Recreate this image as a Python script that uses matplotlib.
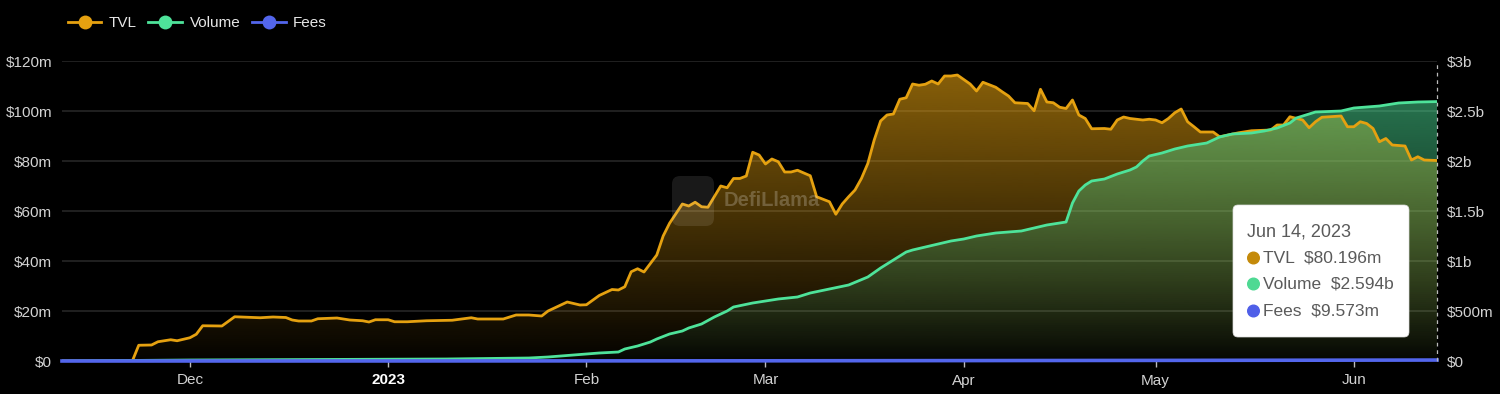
import numpy as np
import matplotlib
matplotlib.use("Agg")
import matplotlib.pyplot as plt
import matplotlib.dates as mdates
from matplotlib.patches import Polygon, FancyBboxPatch
from matplotlib.lines import Line2D
from matplotlib.colors import to_rgb

plt.rcParams["font.family"] = ["Liberation Sans", "DejaVu Sans"]

# ---------------- DATA ----------------

tvl_dates = [
    "2022-11-11", "2022-11-22", "2022-11-23", "2022-11-25", "2022-11-26", "2022-11-28",
    "2022-11-29", "2022-12-01", "2022-12-02", "2022-12-03", "2022-12-06", "2022-12-08",
    "2022-12-10", "2022-12-12", "2022-12-14", "2022-12-16", "2022-12-17", "2022-12-18",
    "2022-12-20", "2022-12-21", "2022-12-24", "2022-12-26", "2022-12-28", "2022-12-29",
    "2022-12-30", "2023-01-01", "2023-01-02", "2023-01-04", "2023-01-07", "2023-01-11",
    "2023-01-14", "2023-01-15", "2023-01-19", "2023-01-21", "2023-01-23", "2023-01-25",
    "2023-01-26", "2023-01-28", "2023-01-29", "2023-01-31", "2023-02-01", "2023-02-03",
    "2023-02-05", "2023-02-06", "2023-02-07", "2023-02-08", "2023-02-09", "2023-02-10",
    "2023-02-12", "2023-02-13", "2023-02-14", "2023-02-16", "2023-02-17", "2023-02-18",
    "2023-02-19", "2023-02-20", "2023-02-22", "2023-02-23", "2023-02-24", "2023-02-25",
    "2023-02-26", "2023-02-27", "2023-02-28", "2023-03-01", "2023-03-02", "2023-03-03",
    "2023-03-04", "2023-03-05", "2023-03-06", "2023-03-08", "2023-03-09", "2023-03-11",
    "2023-03-12", "2023-03-13", "2023-03-14", "2023-03-15", "2023-03-16", "2023-03-17",
    "2023-03-18", "2023-03-19", "2023-03-20", "2023-03-21", "2023-03-22", "2023-03-23",
    "2023-03-24", "2023-03-25", "2023-03-26", "2023-03-27", "2023-03-28", "2023-03-29",
    "2023-03-30", "2023-03-31", "2023-04-02", "2023-04-03", "2023-04-04", "2023-04-06",
    "2023-04-07", "2023-04-08", "2023-04-09", "2023-04-11", "2023-04-12", "2023-04-13",
    "2023-04-14", "2023-04-15", "2023-04-16", "2023-04-17", "2023-04-18", "2023-04-19",
    "2023-04-20", "2023-04-21", "2023-04-23", "2023-04-24", "2023-04-25", "2023-04-26",
    "2023-04-27", "2023-04-29", "2023-04-30", "2023-05-01", "2023-05-02", "2023-05-03",
    "2023-05-04", "2023-05-05", "2023-05-06", "2023-05-07", "2023-05-08", "2023-05-10",
    "2023-05-11", "2023-05-14", "2023-05-16", "2023-05-19", "2023-05-20", "2023-05-21",
    "2023-05-22", "2023-05-24", "2023-05-25", "2023-05-26", "2023-05-27", "2023-05-30",
    "2023-05-31", "2023-06-01", "2023-06-02", "2023-06-03", "2023-06-04", "2023-06-05",
    "2023-06-06", "2023-06-07", "2023-06-09", "2023-06-10", "2023-06-11", "2023-06-12",
    "2023-06-14",
]
tvl_musd = [
    0, 0, 6.3, 6.4, 7.7, 8.5,
    8.1, 9.3, 10.7, 14.1, 14.0, 17.7,
    17.5, 17.3, 17.6, 17.4, 16.4, 16.0,
    16.0, 16.9, 17.2, 16.4, 16.1, 15.6,
    16.5, 16.5, 15.7, 15.7, 16.1, 16.3,
    17.3, 16.8, 16.8, 18.4, 18.4, 18.0,
    20.0, 22.4, 23.6, 22.4, 22.5, 26.2,
    28.6, 28.4, 29.7, 35.7, 36.9, 35.6,
    42.4, 50.0, 55.1, 62.8, 62.0, 63.5,
    61.7, 61.5, 70.0, 69.3, 73.0, 73.0,
    74.0, 83.5, 82.4, 78.8, 80.8, 79.7,
    75.6, 75.6, 76.3, 74.1, 65.7, 63.7,
    58.7, 62.8, 65.7, 68.4, 73.0, 79.0,
    88.4, 96.0, 98.4, 98.8, 104.7, 105.3,
    110.8, 110.3, 110.7, 112.0, 110.8, 114.0,
    114.0, 114.4, 110.8, 108.0, 111.5, 109.5,
    107.7, 106.0, 103.3, 103.0, 100.1, 108.7,
    103.6, 103.3, 101.5, 101.0, 104.4, 98.4,
    97.0, 92.9, 93.0, 92.7, 96.4, 97.6,
    97.0, 96.4, 96.7, 96.4, 95.3, 97.0,
    99.3, 100.8, 95.7, 93.7, 91.6, 91.6,
    89.7, 91.3, 92.1, 92.4, 94.4, 94.4,
    97.7, 96.4, 93.3, 95.7, 97.5, 98.0,
    93.7, 93.7, 95.7, 95.0, 93.0, 87.7,
    89.0, 86.4, 86.0, 80.4, 81.7, 80.4,
    80.196,
]

vol_dates = [
    "2022-11-11", "2022-12-01", "2022-12-21", "2023-01-10", "2023-01-23", "2023-01-26",
    "2023-01-28", "2023-01-31", "2023-02-03", "2023-02-06", "2023-02-07", "2023-02-09",
    "2023-02-11", "2023-02-12", "2023-02-14", "2023-02-16", "2023-02-17", "2023-02-19",
    "2023-02-21", "2023-02-23", "2023-02-24", "2023-02-27", "2023-03-01", "2023-03-03",
    "2023-03-06", "2023-03-08", "2023-03-11", "2023-03-14", "2023-03-17", "2023-03-19",
    "2023-03-21", "2023-03-23", "2023-03-24", "2023-03-26", "2023-03-28", "2023-03-30",
    "2023-04-01", "2023-04-03", "2023-04-06", "2023-04-08", "2023-04-10", "2023-04-12",
    "2023-04-14", "2023-04-16", "2023-04-17", "2023-04-18", "2023-04-19", "2023-04-20",
    "2023-04-21", "2023-04-23", "2023-04-25", "2023-04-27", "2023-04-28", "2023-04-29",
    "2023-04-30", "2023-05-02", "2023-05-04", "2023-05-06", "2023-05-09", "2023-05-11",
    "2023-05-13", "2023-05-16", "2023-05-18", "2023-05-20", "2023-05-22", "2023-05-23",
    "2023-05-26", "2023-05-30", "2023-06-01", "2023-06-05", "2023-06-08", "2023-06-11",
    "2023-06-14",
]
vol_busd = [
    0.0, 0.01, 0.015, 0.02, 0.03, 0.04,
    0.05, 0.065, 0.08, 0.09, 0.12, 0.15,
    0.19, 0.22, 0.27, 0.30, 0.33, 0.37,
    0.44, 0.50, 0.54, 0.58, 0.60, 0.62,
    0.64, 0.68, 0.72, 0.76, 0.84, 0.93,
    1.01, 1.09, 1.11, 1.14, 1.17, 1.20,
    1.22, 1.25, 1.28, 1.29, 1.30, 1.33,
    1.36, 1.38, 1.39, 1.58, 1.70, 1.76,
    1.80, 1.82, 1.87, 1.91, 1.94, 2.00,
    2.05, 2.08, 2.12, 2.15, 2.18, 2.24,
    2.27, 2.28, 2.30, 2.33, 2.38, 2.43,
    2.49, 2.50, 2.53, 2.55, 2.58, 2.59,
    2.594,
]

fee_dates = ["2022-11-11", "2023-01-01", "2023-03-01", "2023-04-01", "2023-05-01", "2023-06-14"]
fee_busd = [0.0, 0.0003, 0.002, 0.004, 0.006, 0.009573]

left_ticks = [0, 20, 40, 60, 80, 100, 120]
left_labels = ["$0", "$20m", "$40m", "$60m", "$80m", "$100m", "$120m"]
right_ticks = [0, 0.5, 1, 1.5, 2, 2.5, 3]
right_labels = ["$0", "$500m", "$1b", "$1.5b", "$2b", "$2.5b", "$3b"]
month_ticks = ["2022-12-01", "2023-01-01", "2023-02-01", "2023-03-01",
               "2023-04-01", "2023-05-01", "2023-06-01"]
month_labels = ["Dec", "2023", "Feb", "Mar", "Apr", "May", "Jun"]

TVL_COLOR = "#E5A110"
VOL_COLOR = "#4EE39A"
FEE_COLOR = "#5366EC"
TXT = "#d2d2d2"


def to_num(dates):
    return mdates.date2num(np.array(dates, dtype="datetime64[D]"))


def gradient_fill(ax, xn, y, color, top, a_top, a_bot, zorder):
    """Fill under a curve with a vertical alpha gradient (clipped imshow)."""
    verts = np.column_stack([np.r_[xn[0], xn, xn[-1]], np.r_[0, y, 0]])
    poly = Polygon(verts, closed=True, facecolor="none", edgecolor="none")
    ax.add_patch(poly)
    grad = np.zeros((256, 1, 4))
    grad[..., :3] = to_rgb(color)
    grad[..., 3] = np.linspace(a_top, a_bot, 256)[:, None]
    im = ax.imshow(grad, aspect="auto", origin="upper", interpolation="bilinear",
                   extent=[xn[0], xn[-1], 0, top], zorder=zorder)
    im.set_clip_path(poly)


# ---------------- FIGURE ----------------

fig = plt.figure(figsize=(15, 3.94), dpi=100, facecolor="black")
ax = fig.add_axes([62 / 1500, 33 / 394, 1375 / 1500, 300 / 394])
ax.set_facecolor("black")
ax2 = ax.twinx()

tx = to_num(tvl_dates)
vx = to_num(vol_dates)
fx = to_num(fee_dates)

# TVL fill on the left axis
gradient_fill(ax, tx, np.array(tvl_musd), TVL_COLOR, 120, 0.62, 0.02, 1)

# volume fill + all lines on the right axis so lines sit above both fills
gradient_fill(ax2, vx, np.array(vol_busd), VOL_COLOR, 3, 0.58, 0.02, 1)
ax2.plot(tx, tvl_musd, color=TVL_COLOR, lw=2, transform=ax.transData, zorder=3)
ax2.plot(vx, vol_busd, color=VOL_COLOR, lw=2, zorder=4)
ax2.plot(fx, fee_busd, color=FEE_COLOR, lw=2.6, zorder=5, clip_on=False)

xmin, xmax = tx[0], tx[-1]
for a in (ax, ax2):
    a.set_xlim(xmin, xmax)
    for s in a.spines.values():
        s.set_visible(False)
ax.set_ylim(0, 120)
ax2.set_ylim(0, 3)

ax.set_yticks(left_ticks)
ax.set_yticklabels(left_labels)
ax2.set_yticks(right_ticks)
ax2.set_yticklabels(right_labels)
ax.tick_params(axis="y", length=0, pad=7, labelcolor=TXT, labelsize=11)
ax2.tick_params(axis="y", length=0, pad=7, labelcolor=TXT, labelsize=11)
ax.grid(axis="y", color="#262626", lw=1.2)
ax.set_axisbelow(True)

ax.set_xticks(to_num(month_ticks))
ax.set_xticklabels(month_labels)
ax.tick_params(axis="x", length=4, width=1, color="#bbbbbb", pad=5,
               labelcolor=TXT, labelsize=11)
for lbl in ax.get_xticklabels():
    if lbl.get_text() == "2023":
        lbl.set_fontweight("bold")
        lbl.set_color("white")
ax2.tick_params(axis="x", length=0)

# dashed hover line at the last date
ax2.axvline(xmax, color="#bbbbbb", lw=0.9, ls=(0, (3, 3)), zorder=6, clip_on=False)

# legend
handles = [
    Line2D([], [], color=TVL_COLOR, lw=2, marker="o", markersize=10, markeredgewidth=0),
    Line2D([], [], color=VOL_COLOR, lw=2, marker="o", markersize=10, markeredgewidth=0),
    Line2D([], [], color=FEE_COLOR, lw=2, marker="o", markersize=10, markeredgewidth=0),
]
fig.legend(handles, ["TVL", "Volume", "Fees"], loc="center left",
           bbox_to_anchor=(54 / 1500, 1 - 23 / 394), ncol=3, frameon=False,
           handlelength=2.2, handletextpad=0.5, columnspacing=0.75,
           labelcolor="#e6e6e6", fontsize=11)

# watermark
inch = fig.dpi_scale_trans
fig.patches.append(FancyBboxPatch((6.72, 1.68), 0.42, 0.50, boxstyle="round,pad=0,rounding_size=0.08",
                                  transform=inch, facecolor="#ffffff", alpha=0.10,
                                  edgecolor="none", zorder=10))
fig.text(7.24, 1.93, "DefiLlama", transform=inch, color="#ffffff", alpha=0.22,
         fontsize=14.5, fontweight="bold", va="center", ha="left", zorder=10)

# tooltip
fig.patches.append(FancyBboxPatch((12.33, 0.57), 1.76, 1.32, boxstyle="round,pad=0,rounding_size=0.05",
                                  transform=inch, facecolor="white", edgecolor="#dddddd",
                                  lw=0.5, zorder=20))
fig.text(12.47, 1.62, "Jun 14, 2023", transform=inch, color="#5a5a5a", fontsize=13,
         va="center", zorder=21)
rows = [("TVL  $80.196m", "#C48A0A", 1.36),
        ("Volume  $2.594b", "#4ED993", 1.10),
        ("Fees  $9.573m", "#4F5FE8", 0.83)]
for label, c, yy in rows:
    fig.patches.append(plt.Circle((12.535, yy), 0.058, transform=inch, color=c, zorder=21))
    fig.text(12.63, yy, label, transform=inch, color="#5a5a5a", fontsize=12.5,
             va="center", zorder=21)

fig.savefig("out.png", dpi=100, facecolor="black")
